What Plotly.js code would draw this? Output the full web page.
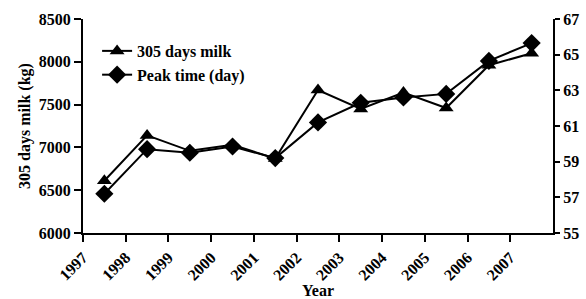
<!DOCTYPE html>
<html>
<head>
<meta charset="utf-8">
<script src="https://cdn.plot.ly/plotly-3.0.1.min.js"></script>
<style>html,body{margin:0;padding:0;background:#fff;}#chart{width:586px;height:299px;}</style>
</head>
<body>
<div id="chart"></div>
<script>
const years = [1997.5, 1998.5, 1999.5, 2000.5, 2001.5, 2002.5, 2003.5, 2004.5, 2005.5, 2006.5, 2007.5];
const milk305 = [6610, 7140, 6960, 7030, 6870, 7670, 7450, 7640, 7460, 7960, 8100];
const peakTime = [57.2, 59.7, 59.5, 59.85, 59.2, 61.2, 62.3, 62.6, 62.8, 64.65, 65.65];
const tickYears = [1997, 1998, 1999, 2000, 2001, 2002, 2003, 2004, 2005, 2006, 2007];
const tickLabels = tickYears.map(String);

const font = {family: '"Liberation Serif", "Times New Roman", serif', size: 16, color: '#000', weight: 'bold'};

const traces = [
  {x: years, y: milk305, name: '305 days milk', type: 'scatter', mode: 'lines+markers',
   line: {color: '#000', width: 2}, marker: {symbol: 'triangle-up', size: 13, color: '#000'}, yaxis: 'y'},
  {x: years, y: peakTime, name: 'Peak time (day)', type: 'scatter', mode: 'lines+markers',
   line: {color: '#000', width: 2}, marker: {symbol: 'diamond', size: 14, color: '#000'}, yaxis: 'y2'}
];

const axisCommon = {showgrid: false, zeroline: false, showline: true, linecolor: '#000', linewidth: 2,
  ticks: 'outside', ticklen: 7, tickwidth: 2, tickcolor: '#000', tickfont: font};

const layout = {
  width: 586, height: 299,
  margin: {l: 83, r: 33, t: 19, b: 66},
  paper_bgcolor: '#fff', plot_bgcolor: '#fff',
  font: font,
  showlegend: true,
  legend: {x: 0.03, y: 0.93, xanchor: 'left', yanchor: 'top', bgcolor: 'rgba(0,0,0,0)',
    font: font, itemwidth: 30, tracegroupgap: 0},
  xaxis: Object.assign({}, axisCommon, {range: [1997, 2008], tickvals: tickYears, ticktext: tickLabels,
    tickangle: -45, title: {text: 'Year', font: font, standoff: 2}}),
  yaxis: Object.assign({}, axisCommon, {range: [6000, 8500], dtick: 500, tick0: 6000,
    title: {text: '305 days milk (kg)', font: font, standoff: 4}}),
  yaxis2: Object.assign({}, axisCommon, {overlaying: 'y', side: 'right', range: [55, 67], dtick: 2, tick0: 55, ticklen: 5})
};

Plotly.newPlot('chart', traces, layout, {displayModeBar: false, staticPlot: true});
</script>
</body>
</html>
